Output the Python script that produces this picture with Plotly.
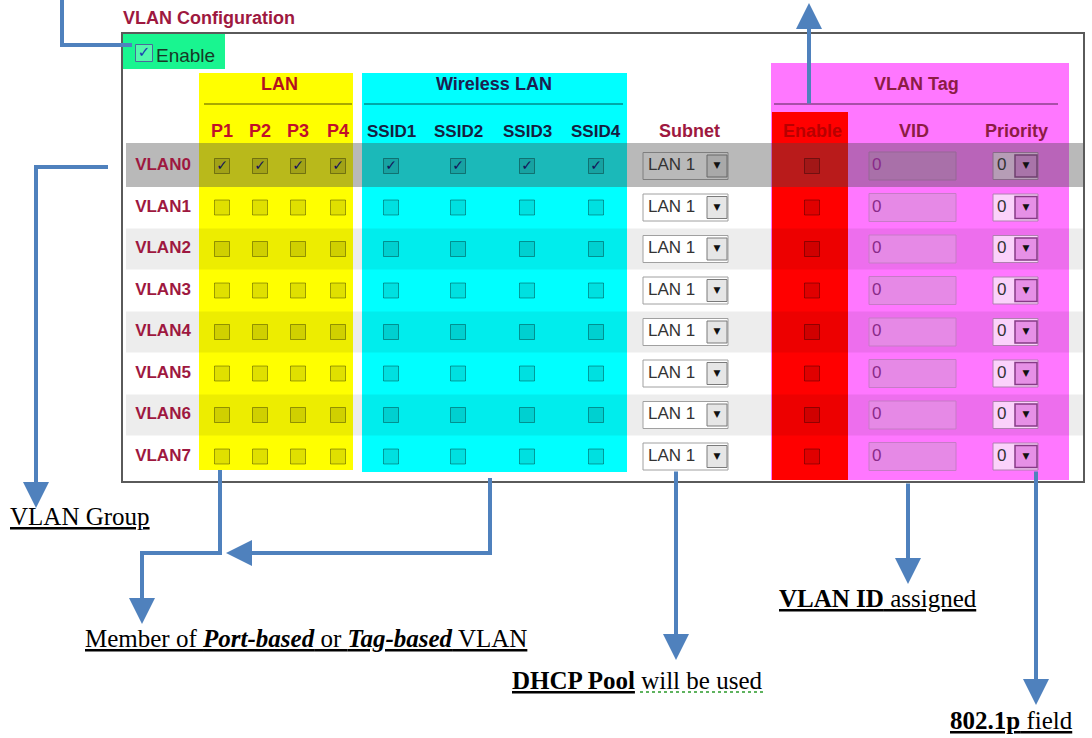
import plotly.graph_objects as go

# --- dados da tela ---
rows = ["VLAN0", "VLAN1", "VLAN2", "VLAN3", "VLAN4", "VLAN5", "VLAN6", "VLAN7"]
lan_ports = ["P1", "P2", "P3", "P4"]
ssids = ["SSID1", "SSID2", "SSID3", "SSID4"]
lan_member = [[1, 1, 1, 1]] + [[0, 0, 0, 0]] * 7
wlan_member = [[1, 1, 1, 1]] + [[0, 0, 0, 0]] * 7
subnet = ["LAN 1"] * 8
tag_enable = [0] * 8
vid = ["0"] * 8
priority = ["0"] * 8

# --- layout (pixels) ---
row_y = [166 + i * 41.5 for i in range(len(rows))]
lan_x = [222, 260, 298, 338]
wlan_x = [391, 458, 527, 596]
enable_x = 812
BLUE = "#4f81bd"
RED_TXT = "#9e1840"
SANS = "Liberation Sans"
SERIF = "Liberation Serif"

fig = go.Figure()
shapes = []


def rect(x0, y0, x1, y1, fill, line="rgba(0,0,0,0)", w=1):
    shapes.append(dict(type="rect", x0=x0, y0=y0, x1=x1, y1=y1, fillcolor=fill,
                       line=dict(color=line, width=w), layer="below"))


def hline(x0, x1, y, color, w=1.5, dash="solid"):
    shapes.append(dict(type="line", x0=x0, x1=x1, y0=y, y1=y,
                       line=dict(color=color, width=w, dash=dash), layer="below"))


# fundo da tabela
rect(122, 33, 1084, 482, "white", "#5a5a5a", 2)
rect(123, 34, 225, 69, "#19f590")
rect(199, 73, 353, 470, "#ffff00")
rect(362, 73, 627, 472, "#00ffff")
rect(771, 63, 1069, 480, "#ff77ff")
rect(772, 112, 848, 480, "#ff0000")

# linhas alternadas
for i, y in enumerate(row_y):
    if i > 0 and i % 2 == 0:
        rect(126, y - 20.5, 1083, y + 20.5, "rgba(0,0,0,0.07)")

# underline dos grupos
hline(204, 352, 104, "rgba(0,0,0,0.45)")
hline(364, 623, 104, "rgba(0,0,0,0.45)")
hline(774, 1058, 104, "rgba(0,0,0,0.45)")

# campos de entrada
for y in row_y:
    rect(643, y - 13.5, 728, y + 13.5, "white", "#a0a0a0", 1)
    rect(707, y - 11, 727, y + 11, "#e6e6e6", "#7a7a7a", 1)
    rect(869, y - 14, 956, y + 14, "#e689e6", "#c77ac7", 1)
    rect(993, y - 13.5, 1038, y + 13.5, "#fbd2fb", "#b080b0", 1)
    rect(1015, y - 11, 1037, y + 11, "#e690e6", "#873a87", 1.5)

# destaque VLAN0
rect(126, 143, 1083, 187, "rgba(70,70,70,0.38)")

# checkboxes
cx, cy, tx, ty = [], [], [], []
for i, y in enumerate(row_y):
    for j, x in enumerate(lan_x):
        cx.append(x); cy.append(y)
        if lan_member[i][j]:
            tx.append(x); ty.append(y)
    for j, x in enumerate(wlan_x):
        cx.append(x); cy.append(y)
        if wlan_member[i][j]:
            tx.append(x); ty.append(y)
    cx.append(enable_x); cy.append(y)
    if tag_enable[i]:
        tx.append(enable_x); ty.append(y)

fig.add_trace(go.Scatter(x=cx, y=cy, mode="markers",
                         marker=dict(symbol="square", size=15, color="rgba(0,0,0,0.12)",
                                     line=dict(color="rgba(0,0,0,0.35)", width=1))))
fig.add_trace(go.Scatter(x=tx, y=ty, mode="text", text=["✓"] * len(tx),
                         textfont=dict(size=14, color="#14145a", family="DejaVu Sans",
                                       weight="bold")))

# enable geral
fig.add_trace(go.Scatter(x=[144], y=[53], mode="markers+text", text=["✓"],
                         textfont=dict(size=15, color="#1a3ab0", family="DejaVu Sans"),
                         marker=dict(symbol="square", size=17, color="rgba(255,255,255,0.25)",
                                     line=dict(color="#4a6a9a", width=1))))

# textos das linhas
fig.add_trace(go.Scatter(x=[163] * len(rows), y=row_y, mode="text", text=rows,
                         textfont=dict(size=17, color=RED_TXT, family=SANS, weight="bold")))
fig.add_trace(go.Scatter(x=[648] * len(rows), y=row_y, mode="text", text=subnet,
                         textposition="middle right",
                         textfont=dict(size=17, color="#333333", family=SANS)))
fig.add_trace(go.Scatter(x=[717] * len(rows) + [1026] * len(rows), y=row_y + row_y,
                         mode="text", text=["▼"] * (2 * len(rows)),
                         textfont=dict(size=9, color="#111111", family="DejaVu Sans")))
fig.add_trace(go.Scatter(x=[872] * len(rows), y=row_y, mode="text", text=vid,
                         textposition="middle right",
                         textfont=dict(size=17, color="#8a2a8a", family=SANS)))
fig.add_trace(go.Scatter(x=[997] * len(rows), y=row_y, mode="text", text=priority,
                         textposition="middle right",
                         textfont=dict(size=17, color="#333333", family=SANS)))

anns = []


def label(x, y, text, color, size=18, bold=True, anchor="center", family=SANS):
    anns.append(dict(x=x, y=y, text=text, showarrow=False, xanchor=anchor, yanchor="middle",
                     font=dict(size=size, color=color, family=family,
                               weight="bold" if bold else "normal")))


label(121, 18, "VLAN Configuration", RED_TXT, 18, anchor="left")
label(154, 55, "Enable", "#173826", 19, bold=False, anchor="left")
label(279, 84, "LAN", "#b41020")
label(494, 84, "Wireless LAN", "#1c2050")
label(916, 84, "VLAN Tag", "#8c1c44")
for p, x in zip(lan_ports, lan_x):
    label(x, 131, p, "#c0102a")
for s, x in zip(ssids, wlan_x):
    label(x, 131, s, "#152040", 17)
label(689, 131, "Subnet", RED_TXT)
label(812, 131, "Enable", "#b80000")
label(914, 131, "VID", "#8c1c44")
label(1016, 131, "Priority", "#8c1c44")

# notas de baixo
label(8, 516, "<u>VLAN Group</u>", "black", 25, bold=False, anchor="left", family=SERIF)
label(83, 638, "<u>Member of <b><i>Port-based</i></b> or <b><i>Tag-based</i></b> VLAN</u>",
      "black", 25, bold=False, anchor="left", family=SERIF)
label(510, 680, "<u><b>DHCP Pool</b></u> will be used", "black", 25, bold=False,
      anchor="left", family=SERIF)
label(777, 598, "<u><b>VLAN ID</b> assigned</u>", "black", 25, bold=False, anchor="left",
      family=SERIF)
label(948, 720, "<u><b>802.1p</b> field</u>", "black", 25, bold=False, anchor="left",
      family=SERIF)
hline(640, 765, 692, "#2a9a2a", 1.5, "dot")


# setas
def path(d):
    shapes.append(dict(type="path", path=d, line=dict(color=BLUE, width=4), layer="above"))


def arrow(x, y, ax, ay):
    anns.append(dict(x=x, y=y, ax=ax, ay=ay, axref="x", ayref="y", xref="x", yref="y",
                     text="", showarrow=True, arrowhead=2, arrowsize=1.3, arrowwidth=4,
                     arrowcolor=BLUE, standoff=0))


path("M 62 0 L 62 45 L 132 45")
arrow(809, 3, 809, 105)
path("M 108 167 L 36 167 L 36 190")
arrow(36, 508, 36, 167)
path("M 220 470 L 220 553 L 142 553 L 142 580")
arrow(142, 624, 142, 553)
path("M 490 478 L 490 553 L 470 553")
arrow(226, 553, 490, 553)
arrow(676, 660, 676, 470)
arrow(908, 584, 908, 482)
arrow(1036, 705, 1036, 470)

fig.update_layout(
    width=1092, height=738, margin=dict(l=0, r=0, t=0, b=0),
    paper_bgcolor="white", plot_bgcolor="white", showlegend=False,
    xaxis=dict(range=[0, 1092], visible=False, fixedrange=True),
    yaxis=dict(range=[738, 0], visible=False, fixedrange=True),
    shapes=shapes, annotations=anns,
)

fig.write_html("out.html", config={"displayModeBar": False},
               post_script="document.body.style.margin='0';")
